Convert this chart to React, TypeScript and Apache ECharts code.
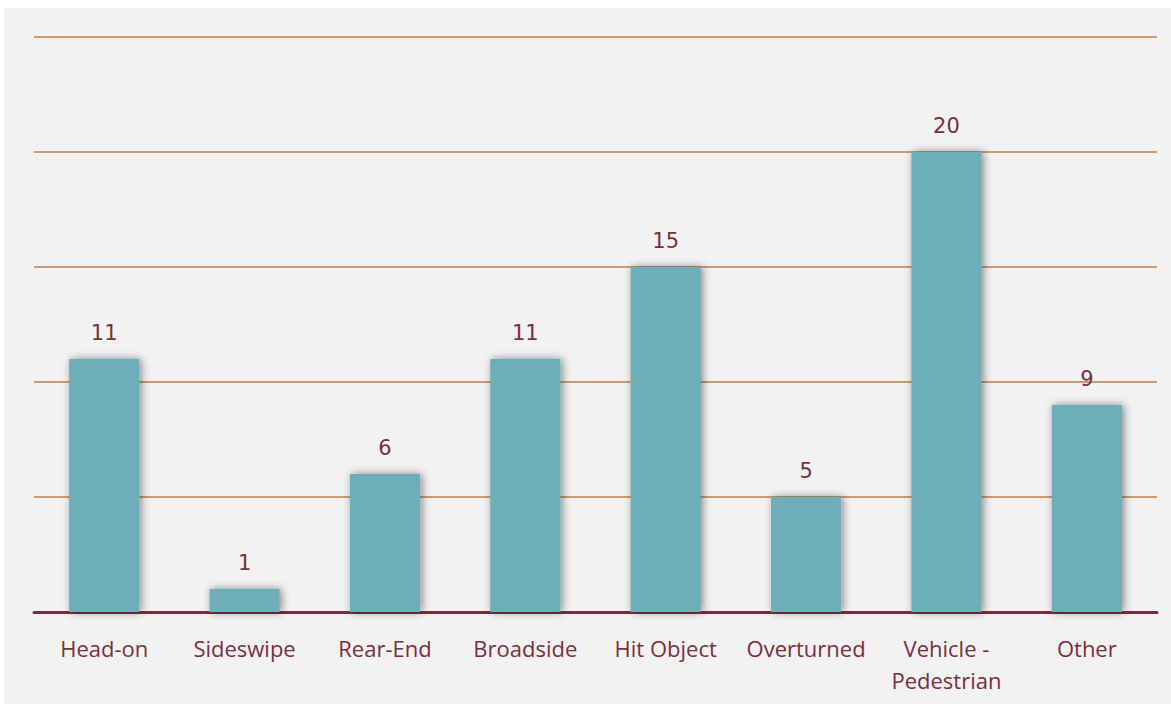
import React, { useEffect, useRef } from "react";
import * as echarts from "echarts";

const categories = ["Head-on", "Sideswipe", "Rear-End", "Broadside", "Hit Object", "Overturned", "Vehicle -\nPedestrian", "Other"];
const counts = [11, 1, 6, 11, 15, 5, 20, 9];
const yMax = 25;
const yInterval = 5;

export default function App() {
  const ref = useRef<HTMLDivElement>(null);
  useEffect(() => {
    const chart = echarts.init(ref.current!, null, { renderer: "svg" });
    chart.setOption({
      animation: false,
      backgroundColor: "#f2f2f2",
      grid: { left: 30, right: 14, top: 29, bottom: 92 },
      xAxis: {
        type: "category",
        data: categories,
        axisLine: { lineStyle: { color: "#76303c", width: 3 } },
        axisTick: { show: false },
        axisLabel: {
          color: "#7a2f3b",
          fontFamily: "Open Sans",
          fontSize: 22,
          lineHeight: 32,
          margin: 20,
          interval: 0,
        },
      },
      yAxis: {
        type: "value",
        min: 0,
        max: yMax,
        interval: yInterval,
        axisLabel: { show: false },
        axisLine: { show: false },
        axisTick: { show: false },
        splitLine: { lineStyle: { color: "#bd7e45", width: 1.5 } },
      },
      series: [
        {
          type: "bar",
          data: counts,
          barWidth: "50%",
          itemStyle: {
            color: "#6eaeb8",
            shadowColor: "rgba(0,0,0,0.45)",
            shadowBlur: 8,
            shadowOffsetX: 2,
            shadowOffsetY: 0,
          },
          label: {
            show: true,
            position: "top",
            distance: 16,
            color: "#7a2f3b",
            fontFamily: "DejaVu Sans",
            fontSize: 21,
          },
        },
      ],
    });
    return () => chart.dispose();
  }, []);
  return (
    <div
      ref={ref}
      style={{ position: "absolute", left: 4, top: 8, width: 1167, height: 696 }}
    />
  );
}
